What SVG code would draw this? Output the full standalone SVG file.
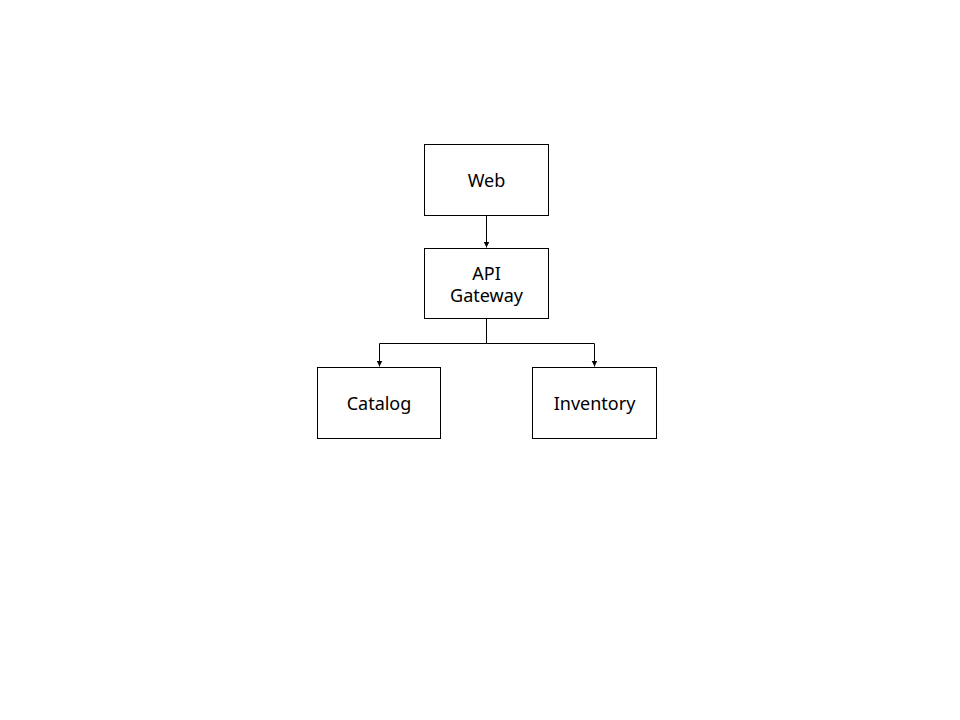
<svg xmlns="http://www.w3.org/2000/svg" width="960" height="720" viewBox="0 0 960 720">
<style>
.box{fill:#fff;stroke:#000;stroke-width:1}
.lbl{font-family:"Noto Sans","Open Sans",sans-serif;font-size:18px;fill:#000;text-anchor:middle;dominant-baseline:central}
.edge{fill:none;stroke:#000;stroke-width:1}
</style>
<defs>
<marker id="arr" markerWidth="6" markerHeight="8" refX="6" refY="4" orient="auto" markerUnits="userSpaceOnUse">
<path d="M0,1 L6,4 L0,7 Z" fill="#000"/>
</marker>
</defs>
<rect width="960" height="720" fill="#fff"/>
<g id="connectors">
<path class="edge" d="M486.5,215.5 V247.5" marker-end="url(#arr)"/>
<path class="edge" d="M486.5,318.5 V343.5 H379.5 V366.5" marker-end="url(#arr)"/>
<path class="edge" d="M486.5,343.5 H594.5 V366.5" marker-end="url(#arr)"/>
</g>
<g id="web">
<rect class="box" x="424.5" y="144.5" width="124" height="71"/>
<text class="lbl" x="486.5" y="180">Web</text>
</g>
<g id="api">
<rect class="box" x="424.5" y="248.5" width="124" height="70"/>
<text class="lbl" x="486.5" y="272.5">API</text>
<text class="lbl" x="486.5" y="295">Gateway</text>
</g>
<g id="catalog">
<rect class="box" x="317.5" y="367.5" width="123" height="71"/>
<text class="lbl" x="379" y="403">Catalog</text>
</g>
<g id="inventory">
<rect class="box" x="532.5" y="367.5" width="124" height="71"/>
<text class="lbl" x="594.5" y="403">Inventory</text>
</g>
</svg>
